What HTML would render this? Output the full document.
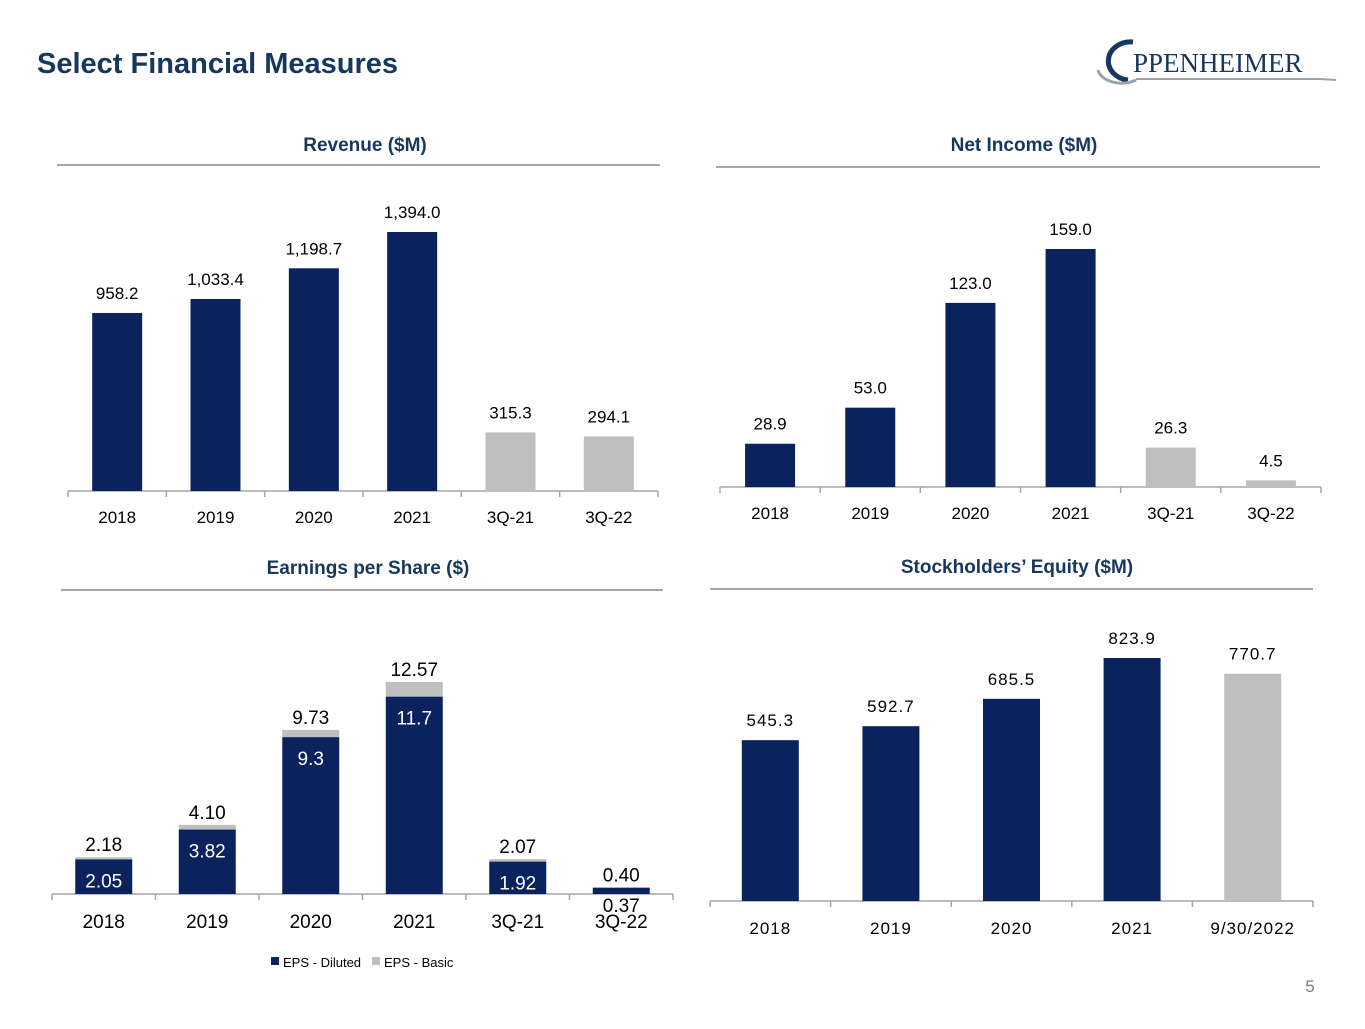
<!DOCTYPE html>
<html><head><meta charset="utf-8">
<style>
body{margin:0;width:1365px;height:1024px;background:#fff;overflow:hidden;font-family:"Liberation Sans",sans-serif;}
svg text{font-family:"Liberation Sans",sans-serif;}
</style></head>
<body>
<svg id="s" width="1365" height="1024" viewBox="0 0 1365 1024" xmlns="http://www.w3.org/2000/svg">
<text x="37" y="73" font-size="29" font-weight="bold" fill="#17375e">Select Financial Measures</text>
<g>
<path d="M1133 42 A22 19 0 1 0 1128 80" fill="none" stroke="#17375e" stroke-width="5"/>
<path d="M1098 70 A24 16 0 0 0 1136 80" fill="none" stroke="#9aa3b0" stroke-width="3"/>
<text x="1133" y="72" font-size="27" fill="#17375e" style="font-family:'Liberation Serif',serif">PPENHEIMER</text>
<path d="M1136 79 L1320 79 L1336 80" fill="none" stroke="#9aa3b0" stroke-width="2"/>
</g>
<text x="1310" y="992" font-size="17" fill="#7f7f7f" text-anchor="middle">5</text>
<g id="charts"></g>
</svg>
<script>
const revCats=["2018","2019","2020","2021","3Q-21","3Q-22"];
const revVals=[958.2,1033.4,1198.7,1394.0,315.3,294.1];
const revLabels=["958.2","1,033.4","1,198.7","1,394.0","315.3","294.1"];
const niCats=["2018","2019","2020","2021","3Q-21","3Q-22"];
const niVals=[28.9,53.0,123.0,159.0,26.3,4.5];
const niLabels=["28.9","53.0","123.0","159.0","26.3","4.5"];
const epsCats=["2018","2019","2020","2021","3Q-21","3Q-22"];
const epsDiluted=[2.05,3.82,9.3,11.7,1.92,0.37];
const epsBasic=[2.18,4.10,9.73,12.57,2.07,0.40];
const epsDilLabels=["2.05","3.82","9.3","11.7","1.92","0.37"];
const epsBasLabels=["2.18","4.10","9.73","12.57","2.07","0.40"];
const eqCats=["2018","2019","2020","2021","9/30/2022"];
const eqVals=[545.3,592.7,685.5,823.9,770.7];
const eqLabels=["545.3","592.7","685.5","823.9","770.7"];

const NAVY="#0a235e", GREY="#bfbfbf", NS="http://www.w3.org/2000/svg";
const root=document.getElementById('charts');
function mk(tag,attrs,parent,text){const e=document.createElementNS(NS,tag);for(const k in attrs)e.setAttribute(k,attrs[k]);if(text!==undefined)e.textContent=text;(parent||root).appendChild(e);return e;}

function panel(name,title,tx,ty,lx1,lx2,ly){
  const g=mk('g',{});
  
  
  const t=mk('text',{x:tx,y:ty,'font-size':19,'font-weight':'bold',fill:'#17375e','text-anchor':'middle'},g,title);
  
  
  const l=mk('line',{x1:lx1,x2:lx2,y1:ly,y2:ly,stroke:'#a6a6a6','stroke-width':2},g);
  
  
  return g;
}
function axis(g,x0,x1,base,n,catY,cats,fs,ls){
  const a=mk('line',{x1:x0,x2:x1,y1:base,y2:base,stroke:'#a6a6a6','stroke-width':1.5},g);
  
  
  const w=(x1-x0)/n;
  for(let i=0;i<=n;i++){mk('line',{x1:x0+i*w,x2:x0+i*w,y1:base,y2:base+6,stroke:'#a6a6a6','stroke-width':1.5},g);}
  cats.forEach((c,i)=>{
    const t=mk('text',{x:x0+(i+0.5)*w,y:catY,'font-size':fs,fill:'#000','text-anchor':'middle','letter-spacing':ls||0},g,c);
    
    
  });
  return w;
}
function simpleChart(name,title,tx,ty,lx1,lx2,ly,x0,x1,base,scale,bw,cats,vals,labels,greyFrom,catY,fs,ls,labOff){
  const g=panel(name,title,tx,ty,lx1,lx2,ly);
  const w=axis(g,x0,x1,base,cats.length,catY,cats,fs,ls);
  vals.forEach((v,i)=>{
    const h=v*scale, cx=x0+(i+0.5)*w;
    const r=mk('rect',{x:cx-bw/2,y:base-h,width:bw,height:h,fill:i>=greyFrom?GREY:NAVY},g);
    
    
    const t=mk('text',{x:cx,y:base-h-labOff,'font-size':fs,fill:'#000','text-anchor':'middle','letter-spacing':ls||0},g,labels[i]);
    
    
  });
}
simpleChart('revenue-chart','Revenue ($M)',365,151,57,660,165,68,658,491,259/1394,50,revCats,revVals,revLabels,4,523,17,0,14);
simpleChart('net-income-chart','Net Income ($M)',1024,151,716,1320,167,720,1321,487,238/159,50,niCats,niVals,niLabels,4,519,17,0,14);
simpleChart('equity-chart',"Stockholders\u2019 Equity ($M)",1017,573,710,1313,589,710,1313,901,243/823.9,57,eqCats,eqVals,eqLabels,4,934,17,1,14);

(function(){
  const g=panel('eps-chart','Earnings per Share ($)',368,574,61,663,590);
  const x0=52,x1=673,base=894,scale=212/12.57,bw=57;
  const w=axis(g,x0,x1,base,epsCats.length,928,epsCats,19);
  epsCats.forEach((c,i)=>{
    const cx=x0+(i+0.5)*w;
    const hb=epsBasic[i]*scale, hd=epsDiluted[i]*scale;
    const rb=mk('rect',{x:cx-bw/2,y:base-hb,width:bw,height:hb-hd,fill:GREY},g);
    
    
    const rd=mk('rect',{x:cx-bw/2,y:base-hd,width:bw,height:hd,fill:NAVY},g);
    
    
    const tb=mk('text',{x:cx,y:base-hb-6,'font-size':19,fill:'#000','text-anchor':'middle'},g,epsBasLabels[i]);
    
    
    const inside=hd>30;
    const td=mk('text',{x:cx,y:inside?base-hd+28:base-hd+24,'font-size':19,fill:inside?'#fff':'#000','text-anchor':'middle'},g,epsDilLabels[i]);
    
    
  });
  const lg=mk('g',{},g);
  
  
  const s1=mk('rect',{x:271,y:957,width:8,height:8,fill:NAVY},lg);
  
  
  const l1=mk('text',{x:283,y:967,'font-size':13,fill:'#000'},lg,'EPS - Diluted');
  
  
  const s2=mk('rect',{x:372,y:957,width:8,height:8,fill:GREY},lg);
  
  
  const l2=mk('text',{x:384,y:967,'font-size':13,fill:'#000'},lg,'EPS - Basic');
  
  
})();
</script>
</body></html>
